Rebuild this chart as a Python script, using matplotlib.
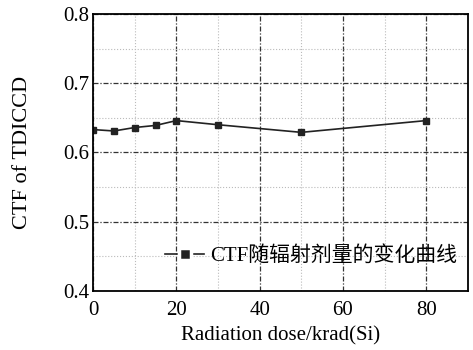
import matplotlib
matplotlib.use("Agg")
import matplotlib.pyplot as plt
from matplotlib.lines import Line2D
from matplotlib.ticker import MultipleLocator

dose = [0, 5, 10, 15, 20, 30, 50, 80]
ctf = [0.633, 0.631, 0.636, 0.639, 0.646, 0.640, 0.629, 0.646]

plt.rcParams["font.family"] = ["Liberation Serif", "Noto Sans CJK SC"]

fig = plt.figure(figsize=(4.73, 3.5), dpi=100)
ax = fig.add_axes([0.197, 0.169, 0.792, 0.791])

ax.plot(dose, ctf, color="#222222", lw=1.2, marker="s", ms=5)

ax.set_xlim(0, 90)
ax.set_ylim(0.4, 0.8)
ax.xaxis.set_major_locator(MultipleLocator(20))
ax.xaxis.set_minor_locator(MultipleLocator(10))
ax.yaxis.set_major_locator(MultipleLocator(0.1))
ax.yaxis.set_minor_locator(MultipleLocator(0.05))
ax.grid(which="major", color="#333333", ls=(0, (4, 1.5, 1, 1.5)), lw=0.9)
ax.grid(which="minor", color="#bbbbbb", ls=":", lw=0.8)
ax.tick_params(which="both", length=0, labelsize=15)
ax.tick_params(axis="x", pad=7)
ax.tick_params(axis="y", pad=3)
for s in ax.spines.values():
    s.set_linewidth(1.3)

ax.set_xlabel("Radiation dose/krad(Si)", fontsize=15, labelpad=5)
ax.set_ylabel("CTF of TDICCD", fontsize=16, labelpad=22)

# legend handle: line - gap - square - gap - line
handle = Line2D([], [], color="#222222", lw=1.2, marker="s", ms=8,
                markerfacecolor="#222222", markeredgecolor="white", mew=2.5)
ax.legend([handle], ["CTF随辐射剂量的变化曲线"], loc="lower right",
          frameon=False, fontsize=15, handlelength=1.9, handletextpad=0.3,
          borderaxespad=0.0, bbox_to_anchor=(0.995, 0.06))

fig.savefig("out.png", dpi=100)
